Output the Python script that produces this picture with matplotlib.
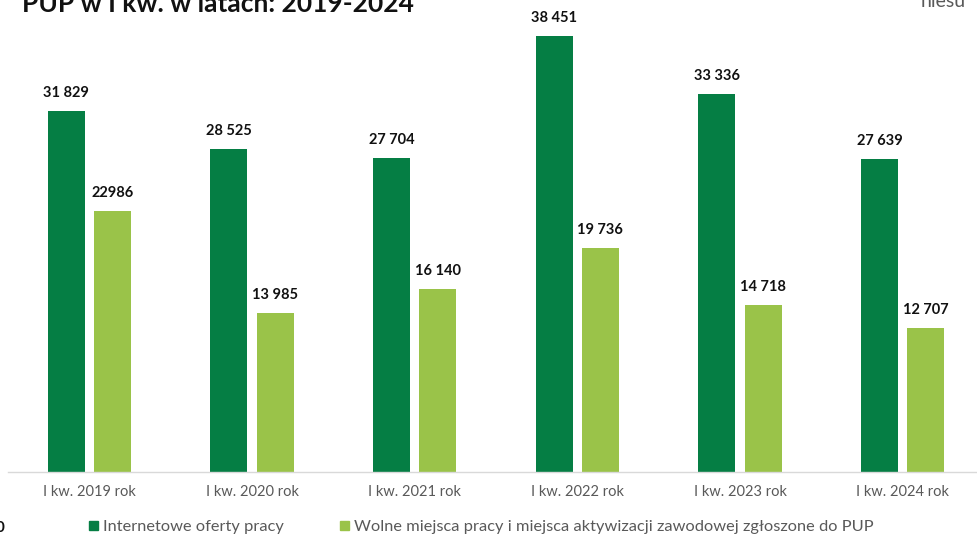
import matplotlib.pyplot as plt
from matplotlib.patches import Rectangle
import numpy as np

categories = ["I kw. 2019 rok", "I kw. 2020 rok", "I kw. 2021 rok",
              "I kw. 2022 rok", "I kw. 2023 rok", "I kw. 2024 rok"]
internet_offers = [31829, 28525, 27704, 38451, 33336, 27639]
pup_offers = [22986, 13985, 16140, 19736, 14718, 12707]
internet_labels = ["31 829", "28 525", "27 704", "38 451", "33 336", "27 639"]
pup_labels = ["22986", "13 985", "16 140", "19 736", "14 718", "12 707"]
series_names = ["Internetowe oferty pracy",
                "Wolne miejsca pracy i miejsca aktywizacji zawodowej zgłoszone do PUP"]

dark = "#057e44"
light = "#9ac349"
grey = "#595959"

plt.rcParams['font.family'] = ['Lato', 'DejaVu Sans']

W, H = 978, 534
fig = plt.figure(figsize=(W / 100, H / 100), dpi=100)
ax = fig.add_axes([8 / W, 62 / H, 976 / W, 472 / H])

x = np.arange(len(categories))
bw = 0.227
off = 0.142
ax.bar(x - off, internet_offers, width=bw, color=dark)
ax.bar(x + off, pup_offers, width=bw, color=light)

for xi, v, lab in zip(x, internet_offers, internet_labels):
    ax.annotate(lab, (xi - off, v), xytext=(0, 11), textcoords="offset pixels",
                ha="center", va="bottom", fontsize=10.5, fontweight="bold", color="#111111")
for xi, v, lab in zip(x, pup_offers, pup_labels):
    ax.annotate(lab, (xi + off, v), xytext=(0, 11), textcoords="offset pixels",
                ha="center", va="bottom", fontsize=10.5, fontweight="bold", color="#111111")

ax.set_xlim(-0.5, len(categories) - 0.5)
ax.set_ylim(0, 41620)
ax.set_yticks([])
ax.set_xticks(x)
ax.set_xticklabels(categories, fontsize=10.5, color=grey)
ax.tick_params(axis="x", length=0, pad=9)
for s in ["top", "right", "left"]:
    ax.spines[s].set_visible(False)
ax.spines["bottom"].set_color("#d9d9d9")
ax.spines["bottom"].set_linewidth(1)

# title (cut off at top of image)
fig.text(22 / W, 1 - 12 / H, "PUP w I kw. w latach: 2019-2024", fontsize=19,
         fontweight="bold", color="#111111", ha="left", va="baseline")
fig.text(921 / W, 1 - 7 / H, "niesu", fontsize=14, color=grey, ha="left", va="baseline")
fig.text(5 / W, 1 - 532 / H, "0", fontsize=11, fontweight="bold", color="#111111",
         ha="right", va="baseline")

# legend
for lx, col, name in [(89, dark, series_names[0]), (340, light, series_names[1])]:
    fig.patches.append(Rectangle((lx / W, 1 - 530 / H), 9 / W, 9 / H,
                                 transform=fig.transFigure, color=col))
    fig.text((lx + 14) / W, 1 - 531 / H, name, fontsize=11.8, color=grey,
             ha="left", va="baseline")

fig.savefig("out.png", dpi=100)
